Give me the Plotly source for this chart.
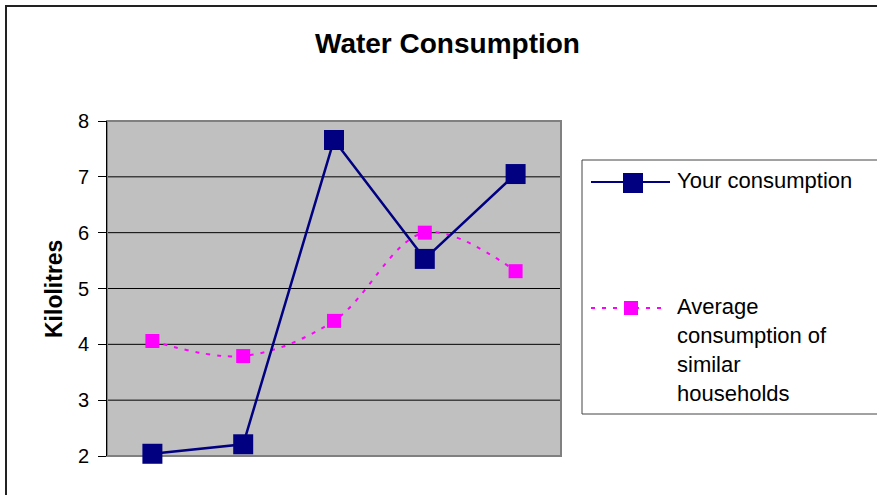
import plotly.graph_objects as go

# ---- data ----
periods = ["P1", "P2", "P3", "P4", "P5"]
your_consumption = [2.04, 2.21, 7.66, 5.53, 7.05]
average_similar = [4.06, 3.79, 4.42, 6.00, 5.31]
y_ticks = [2, 3, 4, 5, 6, 7, 8]
grid_vals = [3, 4, 5, 6, 7]
series_names = ["Your consumption", "Average consumption of similar households"]
avg_legend_lines = ["Average", "consumption of", "similar", "households"]

W, H = 877, 495
# plot area in pixels: x 107..561, y 121..456
PL, PR, PT, PB = 107, 561, 121, 456
L, T, R, B = PL, PT, W - PR, H - PB
PW, PH = PR - PL, PB - PT

def px(x):
    return (x - PL) / PW

def py(y):
    return (PB - y) / PH

NAVY = "#000080"
MAG = "#FF00FF"
FONT = "Arial, Liberation Sans, sans-serif"

xs = list(range(len(periods)))

fig = go.Figure()
fig.add_trace(go.Scatter(
    x=xs, y=average_similar, name=series_names[1], mode="lines+markers",
    line=dict(color=MAG, width=2, dash="4px,7px", shape="spline", smoothing=1),
    marker=dict(symbol="square", size=14, color=MAG, line=dict(width=0)),
    cliponaxis=False, showlegend=False))
fig.add_trace(go.Scatter(
    x=xs, y=your_consumption, name=series_names[0], mode="lines+markers",
    line=dict(color=NAVY, width=2.5),
    marker=dict(symbol="square", size=20, color=NAVY, line=dict(width=0)),
    cliponaxis=False, showlegend=False))

def hline(x0, x1, y, color, width, dash=None):
    ln = dict(color=color, width=width)
    if dash:
        ln["dash"] = dash
    return dict(type="line", xref="paper", yref="paper", x0=px(x0), x1=px(x1),
                y0=py(y), y1=py(y), line=ln)

def vline(x, y0, y1, color, width):
    return dict(type="line", xref="paper", yref="paper", x0=px(x), x1=px(x),
                y0=py(y0), y1=py(y1), line=dict(color=color, width=width))

shapes = []
for g in grid_vals:
    shapes.append(dict(type="line", xref="paper", yref="y", x0=0, x1=1, y0=g, y1=g,
                       line=dict(color="#000000", width=1), layer="below"))
shapes.append(dict(type="rect", xref="paper", yref="paper", x0=0, x1=1, y0=0, y1=1,
                   line=dict(color="#808080", width=2), layer="below"))
# outer chart border (top and left edges visible)
shapes.append(hline(5, W, 6, "#222222", 2))
shapes.append(vline(6, 5, H, "#222222", 2))
# legend box (left, top, bottom edges visible)
shapes.append(dict(type="rect", xref="paper", yref="paper", x0=px(582), x1=px(W),
                   y0=py(414), y1=py(160), line=dict(width=0), fillcolor="white"))
shapes.append(hline(582, W, 160, "#444444", 1))
shapes.append(hline(582, W, 414, "#444444", 1))
shapes.append(vline(582, 160, 414, "#444444", 1))
# legend symbol 1
shapes.append(hline(591, 670, 182, NAVY, 2))
shapes.append(dict(type="rect", xref="paper", yref="paper", x0=px(623), x1=px(643),
                   y0=py(193), y1=py(173), line=dict(width=0), fillcolor=NAVY))
# legend symbol 2
shapes.append(hline(591, 668, 308, MAG, 2, "4px,7px"))
shapes.append(dict(type="rect", xref="paper", yref="paper", x0=px(624), x1=px(638),
                   y0=py(315), y1=py(301), line=dict(width=0), fillcolor=MAG))

annotations = [
    dict(text="<b>Water Consumption</b>", xref="paper", yref="paper", x=px(447), y=py(43),
         xanchor="center", yanchor="middle", showarrow=False,
         font=dict(family=FONT, size=28, color="black")),
    dict(text="<b>Kilolitres</b>", xref="paper", yref="paper", x=px(54), y=py(289),
         xanchor="center", yanchor="middle", showarrow=False, textangle=-90,
         font=dict(family=FONT, size=23, color="black")),
    dict(text=series_names[0], xref="paper", yref="paper", x=px(675), y=py(180),
         xanchor="left", yanchor="middle", showarrow=False,
         font=dict(family=FONT, size=22, color="black")),
]
for i, line in enumerate(avg_legend_lines):
    annotations.append(dict(text=line, xref="paper", yref="paper", x=px(675),
                            y=py(306 + i * 29.3), xanchor="left", yanchor="middle",
                            showarrow=False, font=dict(family=FONT, size=22, color="black")))

fig.update_layout(
    width=W, height=H,
    margin=dict(l=L, r=R, t=T, b=B, pad=0),
    paper_bgcolor="white", plot_bgcolor="#C0C0C0",
    showlegend=False,
    shapes=shapes, annotations=annotations,
    xaxis=dict(range=[-0.5, len(periods) - 0.5], showgrid=False, zeroline=False,
               showticklabels=False, ticks="", showline=False, fixedrange=True),
    yaxis=dict(range=[y_ticks[0], y_ticks[-1]], tickvals=y_ticks, showgrid=False,
               zeroline=False, showline=True, linecolor="black", linewidth=1,
               ticks="outside", ticklen=8, tickcolor="black", tickwidth=1,
               ticklabelstandoff=5,
               tickfont=dict(family=FONT, size=20, color="black"), fixedrange=True),
)

fig.write_html("out.html", config={"displayModeBar": False},
               post_script="document.body.style.margin='0';document.body.style.overflow='hidden';")
